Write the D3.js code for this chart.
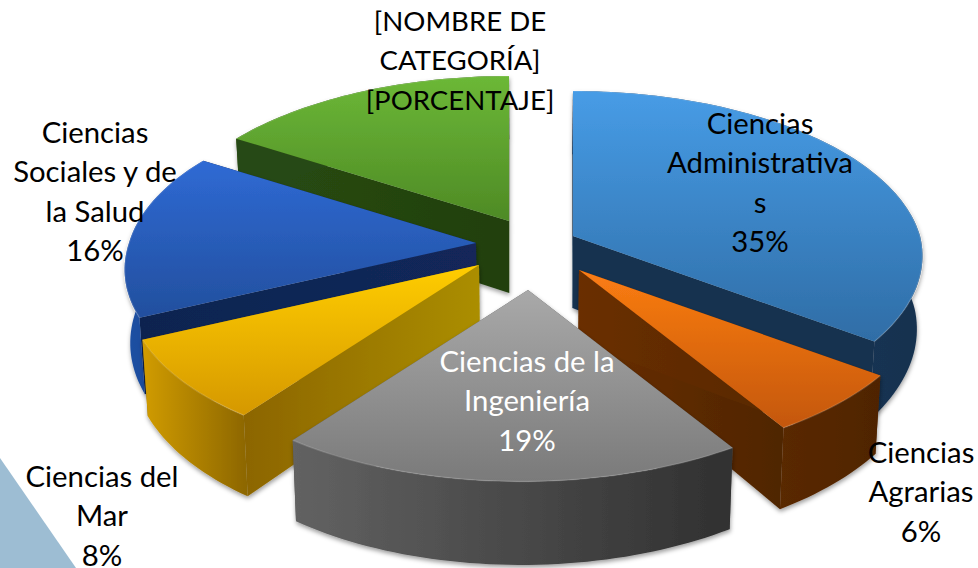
<!DOCTYPE html>
<html><head><meta charset="utf-8">
<script src="https://cdn.jsdelivr.net/npm/d3@7"></script>
<style>html,body{margin:0;padding:0;background:#fff;overflow:hidden}svg{display:block}
text{font-family:Lato,"Open Sans",sans-serif;font-size:29.3px}</style></head><body>
<svg id="c" width="978" height="568"></svg>
<script>
// ---- data ----
const categories = ["Ciencias Administrativas","Ciencias Agrarias","Ciencias de la Ingeniería","Ciencias del Mar","Ciencias Sociales y de la Salud","[NOMBRE DE CATEGORÍA]"];
const values = [35,6,19,8,16,16];
const percentLabels = ["35%","6%","19%","8%","16%","[PORCENTAJE]"];
const wrappedNames = [["Ciencias","Administrativa","s"],["Ciencias","Agrarias"],["Ciencias de la","Ingeniería"],["Ciencias del","Mar"],["Ciencias","Sociales y de","la Salud"],["[NOMBRE DE","CATEGORÍA]"]];

// ---- layout and style ----
const W=978,H=568, cx=526, cy=254;
const explodeX=[47,53,2,-47,-50,-17], explodeY=[-18,16,36,11,-11,-33];
const rx=347, ry=165, persp=0.138, shear=-7, depth=72, converge=0.014;
const paintOrder=[5,0,4,1,3,2];
const labelX=[760,921,527,102,95,460], labelY=[134,463,372,487,143,31];
const labelSize=[29.3,29.3,29.3,29.3,29.3,27.6];
const labelFill=["#000","#000","#fff","#000","#000","#000"];
const lineStep=39.3;
const topCols=[["#479ce6","#2f6da6"],["#fb7d13","#c45708"],["#a9a9a9","#7a7a7a"],["#ffcd00","#d59800"],["#2f6ad4","#224f9e"],["#6cb837","#4e8a25"]];
const edgeCols=[["#17324f","#17324f"],["#6a2f05","#4f2503"],["#555","#555"],["#8c6500","#ab8e00"],["#0f2450","#12285a"],["#294b13","#21400e"]];
const rimCols=[["#1b3d63","#17324f"],["#5a2904","#4f2402"],["#626262","#303030"],["#d19c00","#8c6600"],["#1f50a4","#1a4488"],["#284a12","#284a12"]];

const svg=d3.select("#c");
const defs=svg.append("defs");
const shadow=defs.append("filter").attr("id","sh").attr("x","-10%").attr("y","-10%").attr("width","120%").attr("height","125%");
shadow.append("feDropShadow").attr("dx",0.5).attr("dy",2.5).attr("stdDeviation",2.2).attr("flood-color","#000").attr("flood-opacity",0.38);
function grad(id,cols,horizontal){
  const g=defs.append("linearGradient").attr("id",id).attr("x1",0).attr("y1",0).attr("x2",horizontal?1:0).attr("y2",horizontal?0:1);
  g.append("stop").attr("offset","0").attr("stop-color",cols[0]);
  g.append("stop").attr("offset","1").attr("stop-color",cols[1]);
}
categories.forEach((c,i)=>{grad("t"+i,topCols[i],false);grad("e"+i,edgeCols[i],true);grad("r"+i,rimCols[i],true);});

// corner of the page
svg.append("path").attr("fill","#9dbdd3").attr("d",d3.line()([[0,458],[76,568],[0,568]])+"Z");

const arcs=d3.pie().sort(null).startAngle(0).endAngle(2*Math.PI)(values);
const line=d3.line();
function project(i,t){ // point of the rim of slice i at pie angle t, top face
  const u=Math.sin(t), v=-Math.cos(t), s=1/(1-persp*v);
  return {x:cx+explodeX[i]+rx*u*s+shear*Math.max(v,0), y:cy+explodeY[i]+ry*v*s, s};
}
function apex(i){return {x:cx+explodeX[i],y:cy+explodeY[i],s:1};}
function down(p){return [p.x+(cx-p.x)*converge, p.y+depth*p.s];}
const up=p=>[p.x,p.y];

paintOrder.forEach(i=>{
  const a=arcs[i], g=svg.append("g").attr("filter","url(#sh)");
  const n=Math.max(8,Math.ceil((a.endAngle-a.startAngle)*40));
  const rim=d3.range(n+1).map(k=>project(i,a.startAngle+(a.endAngle-a.startAngle)*k/n));
  const A=apex(i);
  // flat walls of the cut, then outer wall, then top
  [rim[n],rim[0]].forEach(p=>{
    g.append("path").attr("fill",`url(#e${i})`)
     .attr("d",line([up(A),up(p),down(p),down(A)])+"Z");
  });
  g.append("path").attr("fill",`url(#r${i})`)
   .attr("d",line(rim.map(up).concat(rim.slice().reverse().map(down)))+"Z");
  g.append("path").attr("fill",`url(#t${i})`)
   .attr("d",line([up(A)].concat(rim.map(up)))+"Z");
  g.append("path").attr("fill","none").attr("stroke","#fff").attr("stroke-opacity",0.14).attr("stroke-width",1.5)
   .attr("d",line(rim.map(up)));
});

// labels
categories.forEach((c,i)=>{
  const lines=wrappedNames[i].concat([percentLabels[i]]);
  const t=svg.append("text").attr("text-anchor","middle").attr("fill",labelFill[i]).style("font-size",labelSize[i]+"px");
  lines.forEach((l,k)=>t.append("tspan").attr("x",labelX[i]).attr("y",labelY[i]+k*lineStep).text(l));
});
</script></body></html>
